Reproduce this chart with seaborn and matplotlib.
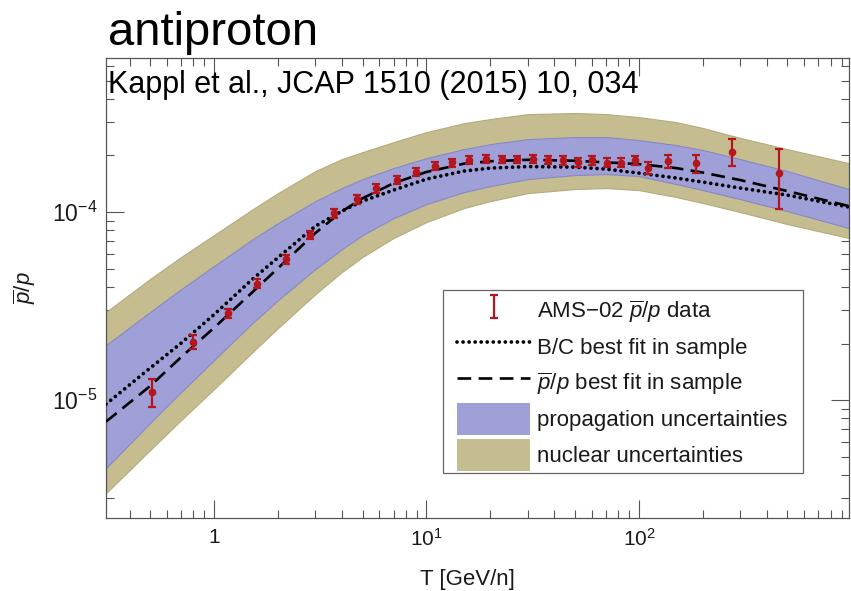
import numpy as np
import pandas as pd
import matplotlib
matplotlib.use("Agg")
import matplotlib.pyplot as plt
import seaborn as sns
from matplotlib.patches import Patch, Rectangle
from matplotlib.lines import Line2D
from matplotlib.ticker import FixedLocator, FixedFormatter, LogLocator, NullFormatter

# ---------------------------------------------------------------- model curves
# kinetic energy grid of the model curves [GeV/n]
T_model = [0.31, 0.5, 0.7, 1.0, 1.5, 2.0, 3.0, 4.0, 5.0, 7.0, 10.0, 15.0, 20.0,
           30.0, 50.0, 70.0, 100.0, 150.0, 200.0, 300.0, 500.0, 975.0]

# nuclear (cross-section) uncertainty band
nuclear_hi = [2.94e-5, 4.41e-5, 5.77e-5, 7.55e-5, 1.025e-4, 1.262e-4, 1.652e-4, 1.914e-4,
              2.084e-4, 2.355e-4, 2.665e-4, 2.97e-4, 3.126e-4, 3.32e-4, 3.365e-4, 3.32e-4,
              3.20e-4, 3.01e-4, 2.80e-4, 2.48e-4, 2.16e-4, 1.82e-4]
nuclear_lo = [3.20e-6, 5.42e-6, 7.83e-6, 1.144e-5, 1.778e-5, 2.415e-5, 3.66e-5, 4.80e-5,
              5.77e-5, 7.28e-5, 8.85e-5, 1.050e-4, 1.144e-4, 1.262e-4, 1.326e-4, 1.342e-4,
              1.309e-4, 1.202e-4, 1.117e-4, 1.0e-4, 8.63e-5, 7.28e-5]

# propagation uncertainty band
propagation_hi = [1.96e-5, 2.94e-5, 3.89e-5, 5.16e-5, 7.10e-5, 8.74e-5, 1.144e-4, 1.342e-4,
                  1.498e-4, 1.714e-4, 1.937e-4, 2.163e-4, 2.30e-4, 2.445e-4, 2.506e-4, 2.506e-4,
                  2.415e-4, 2.27e-4, 2.138e-4, 1.914e-4, 1.652e-4, 1.325e-4]
propagation_lo = [4.35e-6, 7.55e-6, 1.103e-5, 1.633e-5, 2.54e-5, 3.40e-5, 4.98e-5, 6.35e-5,
                  7.54e-5, 9.29e-5, 1.103e-4, 1.277e-4, 1.375e-4, 1.498e-4, 1.573e-4, 1.593e-4,
                  1.554e-4, 1.409e-4, 1.309e-4, 1.172e-4, 1.012e-4, 8.22e-5]

# best-fit curves
bc_best = [9.52e-6, 1.480e-5, 2.01e-5, 2.85e-5, 4.35e-5, 5.73e-5, 8.42e-5, 1.012e-4,
           1.144e-4, 1.309e-4, 1.498e-4, 1.652e-4, 1.714e-4, 1.746e-4, 1.735e-4, 1.693e-4,
           1.612e-4, 1.517e-4, 1.444e-4, 1.342e-4, 1.231e-4, 1.063e-4]
pbar_best = [7.68e-6, 1.187e-5, 1.693e-5, 2.424e-5, 3.71e-5, 5.03e-5, 7.74e-5, 1.009e-4,
             1.184e-4, 1.424e-4, 1.634e-4, 1.809e-4, 1.863e-4, 1.897e-4, 1.875e-4, 1.838e-4,
             1.800e-4, 1.714e-4, 1.622e-4, 1.480e-4, 1.293e-4, 1.076e-4]

# ---------------------------------------------------------------- AMS-02 data
T_data = [0.51, 0.80, 1.16, 1.60, 2.18, 2.84, 3.66, 4.71, 5.81, 7.27, 8.97, 10.94,
          13.2, 15.8, 19.0, 22.7, 26.7, 31.6, 37.4, 44.0, 51.4, 60.2, 70.5, 82.0,
          95.8, 110.3, 137.0, 185.0, 274.0, 459.0]
ratio_data = [1.107e-5, 2.04e-5, 2.90e-5, 4.16e-5, 5.60e-5, 7.54e-5, 9.84e-5, 1.168e-4,
              1.336e-4, 1.479e-4, 1.636e-4, 1.756e-4, 1.837e-4, 1.89e-4, 1.914e-4, 1.907e-4,
              1.907e-4, 1.914e-4, 1.89e-4, 1.89e-4, 1.837e-4, 1.89e-4, 1.83e-4, 1.83e-4,
              1.89e-4, 1.725e-4, 1.86e-4, 1.816e-4, 2.095e-4, 1.607e-4]
ratio_err = [1.9e-6, 1.8e-6, 1.7e-6, 2.3e-6, 2.8e-6, 3.8e-6, 4.9e-6, 5.8e-6,
             6.7e-6, 7.4e-6, 8.2e-6, 8.8e-6, 9.0e-6, 9.0e-6, 9.0e-6, 9.0e-6,
             9.0e-6, 9.0e-6, 9.0e-6, 1.0e-5, 1.0e-5, 1.0e-5, 1.0e-5, 1.0e-5,
             1.0e-5, 1.3e-5, 1.4e-5, 1.95e-5, 3.4e-5, 5.7e-5]

# ---------------------------------------------------------------- style
sns.set_style("white")
plt.rcParams["font.family"] = ["Liberation Sans", "DejaVu Sans"]
plt.rcParams["mathtext.fontset"] = "custom"
plt.rcParams["mathtext.rm"] = "Liberation Sans"
plt.rcParams["mathtext.it"] = "Liberation Sans:italic"
plt.rcParams["mathtext.bf"] = "Liberation Sans:bold"

BLUE = "#a0a0d8"
BLUE_EDGE = "#8888c6"
TAN = "#c5bd8f"
TAN_EDGE = "#b3ab7d"
RED = "#b3171d"
AXIS = "#555555"
INK = "#1a1a1a"

fig = plt.figure(figsize=(8.51, 5.91), dpi=100)
ax = fig.add_axes([106 / 851, 1 - 518 / 591, 743 / 851, 460 / 591])
ax.set_xscale("log")
ax.set_yscale("log")

# uncertainty bands
ax.fill_between(T_model, nuclear_lo, nuclear_hi, facecolor=TAN, edgecolor=TAN_EDGE,
                linewidth=0.8, zorder=1)
ax.fill_between(T_model, propagation_lo, propagation_hi, facecolor=BLUE, edgecolor=BLUE_EDGE,
                linewidth=0.8, zorder=2)

# best-fit curves
DOT = (0, (0.01, 1.6))
DASH = (0, (5.2, 2.8))
curves = pd.DataFrame({"T": T_model, "bc": bc_best, "pbar": pbar_best})
sns.lineplot(data=curves, x="T", y="bc", ax=ax, color="black", linewidth=2.7,
             linestyle=DOT, dash_capstyle="round", zorder=3, estimator=None, sort=False)
sns.lineplot(data=curves, x="T", y="pbar", ax=ax, color="black", linewidth=1.9,
             linestyle=DASH, zorder=4, estimator=None, sort=False)

# data points
ax.errorbar(T_data, ratio_data, yerr=ratio_err, fmt="o", color=RED, markersize=4.5,
            elinewidth=1.6, capsize=3.2, capthick=1.6, zorder=5)

# axes ranges
ax.set_xlim(0.31, 975)
ax.set_ylim(2.36e-6, 6.6e-4)

# ticks
ax.xaxis.set_major_locator(FixedLocator([1, 10, 100]))
ax.xaxis.set_major_formatter(FixedFormatter(["1", r"$10^{1}$", r"$10^{2}$"]))
ax.xaxis.set_minor_locator(LogLocator(base=10, subs=np.arange(2, 10), numticks=20))
ax.xaxis.set_minor_formatter(NullFormatter())
ax.yaxis.set_major_locator(FixedLocator([1e-5, 1e-4]))
ax.yaxis.set_major_formatter(FixedFormatter([r"$10^{-5}$", r"$10^{-4}$"]))
ax.yaxis.set_minor_locator(LogLocator(base=10, subs=np.arange(2, 10), numticks=20))
ax.yaxis.set_minor_formatter(NullFormatter())

ax.tick_params(which="both", direction="in", bottom=True, left=True, top=True, right=True,
               color=AXIS, width=0.8, labelcolor=INK)
ax.tick_params(which="major", length=13)
ax.tick_params(which="minor", length=5.8)
ax.tick_params(axis="x", which="major", pad=7, labelsize=15)
ax.tick_params(axis="y", which="major", pad=6, labelsize=16.5)
for side in ax.spines.values():
    side.set_color(AXIS)
    side.set_linewidth(0.9)

ax.set_xlabel("T [GeV/n]", fontsize=16, color=INK)
ax.set_ylabel(r"$\overline{p}/p$", fontsize=16, color=INK)
ax.xaxis.set_label_coords(0.487, -0.11)
ax.yaxis.set_label_coords(-0.092, 0.5)

# reference line inside the frame
ax.text(0.003, 0.9233, "Kappl et al., JCAP 1510 (2015) 10, 034", transform=ax.transAxes,
        fontsize=22, ha="left", va="baseline", color="black", zorder=6)

# title above the frame
fig.text(108 / 851, 1 - 45 / 591, "antiproton", fontsize=34, ha="left", va="baseline",
         color="black")

# legend: white box with a thin grey frame, entries placed inside it
box_x0, box_x1 = (443 - 106) / 743, (803 - 106) / 743
box_y0, box_y1 = (518 - 473) / 460, (518 - 290) / 460
ax.add_patch(Rectangle((box_x0, box_y0), box_x1 - box_x0, box_y1 - box_y0,
                       transform=ax.transAxes, facecolor="white", edgecolor="#666666",
                       linewidth=0.9, zorder=8))

err_handle = ax.errorbar([np.nan], [np.nan], yerr=[np.nan], fmt="none", ecolor=RED,
                         elinewidth=1.6, capsize=3.2, capthick=1.6)
handles = [
    err_handle,
    Line2D([], [], color="black", linewidth=2.7, linestyle=DOT, dash_capstyle="round"),
    Line2D([], [], color="black", linewidth=1.9, linestyle=DASH),
    Patch(facecolor=BLUE, edgecolor="none"),
    Patch(facecolor=TAN, edgecolor="none"),
]
labels = [
    "AMS\u221202 " + r"$\overline{p}/p$" + " data",
    "B/C best fit in sample",
    r"$\overline{p}/p$" + " best fit in sample",
    "propagation uncertainties",
    "nuclear uncertainties",
]
leg = ax.legend(handles, labels, loc="upper left",
                bbox_to_anchor=((457 - 106) / 743, (518 - 295) / 460),
                fontsize=16, frameon=False, borderpad=0, borderaxespad=0,
                handlelength=3.3, handleheight=1.84, handletextpad=0.32, labelspacing=0.175)
leg.set_zorder(9)
for t in leg.get_texts():
    t.set_color(INK)

fig.savefig("out.png", dpi=100)
